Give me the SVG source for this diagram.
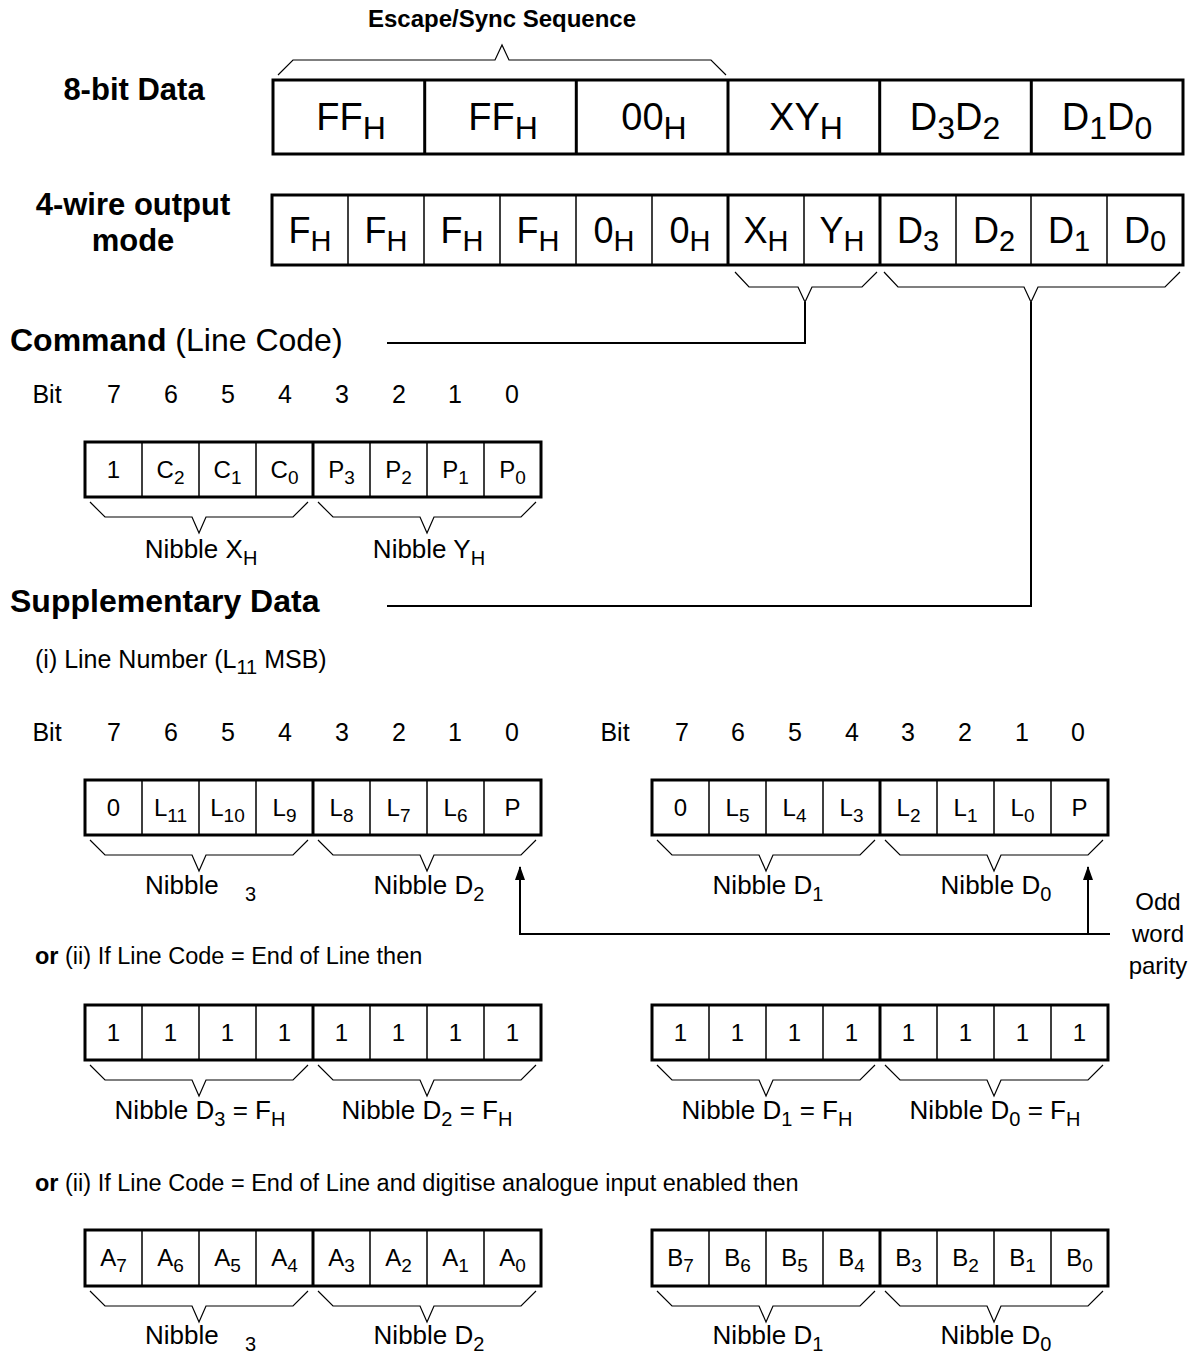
<svg xmlns="http://www.w3.org/2000/svg" xmlns:xlink="http://www.w3.org/1999/xlink" width="1192" height="1354" viewBox="0 0 1192 1354">
<style>
text{font-family:"Liberation Sans",Arial,sans-serif;fill:#000}
.b{font-weight:bold}
.title{font-size:24px;font-weight:bold;text-anchor:middle}
.lbl{font-size:31px;font-weight:bold;text-anchor:middle}
.big{font-size:38px;text-anchor:middle}
.mid{font-size:36px;text-anchor:middle}
.sm{font-size:24px;text-anchor:middle}
.bit{font-size:25px;text-anchor:middle}
.nib{font-size:26px;text-anchor:middle}
.head{font-size:32px}
.note{font-size:23.5px}
.box{fill:none;stroke:#000;stroke-width:3}
.dv{stroke:#000;stroke-width:1.5}
.dk{stroke:#000;stroke-width:3}
.br{fill:none;stroke:#000;stroke-width:1.2}
.cn{fill:none;stroke:#000;stroke-width:2}
</style>
<defs>
<path id="nb" class="br" d="M5,5 L20,20 L107,20 L114,36 L121,20 L208,20 L223,5"/>
<marker id="ah" markerWidth="14" markerHeight="10" refX="13" refY="5" orient="auto" markerUnits="userSpaceOnUse" viewBox="0 0 14 10"><path d="M0,0 L14,5 L0,10 Z" fill="#000"/></marker>
</defs>

<g id="title">
<text class="title" x="502" y="27">Escape/Sync Sequence</text>
<path class="br" d="M278,75 L293,60 L495,60 L502,45 L509,60 L711,60 L726,75"/>
</g>

<g id="row8bit">
<text class="lbl" x="134" y="100">8-bit Data</text>
<rect class="box" x="273" y="80" width="910" height="74"/>
<line class="dk" x1="424.7" y1="80" x2="424.7" y2="154"/>
<line class="dk" x1="576.3" y1="80" x2="576.3" y2="154"/>
<line class="dk" x1="728" y1="80" x2="728" y2="154"/>
<line class="dk" x1="879.7" y1="80" x2="879.7" y2="154"/>
<line class="dk" x1="1031.3" y1="80" x2="1031.3" y2="154"/>
<text class="big" x="351" y="130">FF<tspan dy="9" font-size="32">H</tspan></text>
<text class="big" x="503" y="130">FF<tspan dy="9" font-size="32">H</tspan></text>
<text class="big" x="654" y="130">00<tspan dy="9" font-size="32">H</tspan></text>
<text class="big" x="806" y="130">XY<tspan dy="9" font-size="32">H</tspan></text>
<text class="big" x="955" y="130">D<tspan dy="9" font-size="32">3</tspan><tspan dy="-9">D</tspan><tspan dy="9" font-size="32">2</tspan></text>
<text class="big" x="1107" y="130">D<tspan dy="9" font-size="32">1</tspan><tspan dy="-9">D</tspan><tspan dy="9" font-size="32">0</tspan></text>
</g>

<g id="row4wire">
<text class="lbl" x="133" y="215">4-wire output</text>
<text class="lbl" x="133" y="251">mode</text>
<rect class="box" x="272" y="195" width="911" height="70"/>
<line class="dv" x1="348" y1="195" x2="348" y2="265"/>
<line class="dv" x1="424" y1="195" x2="424" y2="265"/>
<line class="dv" x1="500" y1="195" x2="500" y2="265"/>
<line class="dv" x1="576" y1="195" x2="576" y2="265"/>
<line class="dv" x1="652" y1="195" x2="652" y2="265"/>
<line class="dk" x1="728" y1="195" x2="728" y2="265"/>
<line class="dv" x1="804" y1="195" x2="804" y2="265"/>
<line class="dk" x1="880" y1="195" x2="880" y2="265"/>
<line class="dv" x1="956" y1="195" x2="956" y2="265"/>
<line class="dv" x1="1031" y1="195" x2="1031" y2="265"/>
<line class="dv" x1="1107" y1="195" x2="1107" y2="265"/>
<text class="mid" x="310" y="243">F<tspan dy="8" font-size="29">H</tspan></text>
<text class="mid" x="386" y="243">F<tspan dy="8" font-size="29">H</tspan></text>
<text class="mid" x="462" y="243">F<tspan dy="8" font-size="29">H</tspan></text>
<text class="mid" x="538" y="243">F<tspan dy="8" font-size="29">H</tspan></text>
<text class="mid" x="614" y="243">0<tspan dy="8" font-size="29">H</tspan></text>
<text class="mid" x="690" y="243">0<tspan dy="8" font-size="29">H</tspan></text>
<text class="mid" x="766" y="243">X<tspan dy="8" font-size="29">H</tspan></text>
<text class="mid" x="842" y="243">Y<tspan dy="8" font-size="29">H</tspan></text>
<text class="mid" x="918" y="243">D<tspan dy="8" font-size="29">3</tspan></text>
<text class="mid" x="994" y="243">D<tspan dy="8" font-size="29">2</tspan></text>
<text class="mid" x="1069" y="243">D<tspan dy="8" font-size="29">1</tspan></text>
<text class="mid" x="1145" y="243">D<tspan dy="8" font-size="29">0</tspan></text>
<path class="br" d="M735,272 L749,287 L798,287 L805,302 L812,287 L862,287 L877,272"/>
<path class="br" d="M884,272 L898,287 L1024,287 L1031,302 L1038,287 L1165,287 L1180,272"/>
</g>

<g id="command">
<text class="head" x="10" y="351"><tspan class="b">Command</tspan> (Line Code)</text>
<text class="bit" x="47" y="403">Bit</text>
<text class="bit" x="114" y="403">7</text><text class="bit" x="171" y="403">6</text><text class="bit" x="228" y="403">5</text><text class="bit" x="285" y="403">4</text>
<text class="bit" x="342" y="403">3</text><text class="bit" x="399" y="403">2</text><text class="bit" x="455" y="403">1</text><text class="bit" x="512" y="403">0</text>
<rect class="box" x="85" y="442" width="456" height="55"/>
<path class="dv" d="M142,442V497M199,442V497M256,442V497M370,442V497M427,442V497M484,442V497"/>
<line class="dk" x1="313" y1="442" x2="313" y2="497"/>
<text class="sm" x="113.5" y="478">1</text>
<text class="sm" x="170.5" y="478">C<tspan dy="6" font-size="19">2</tspan></text>
<text class="sm" x="227.5" y="478">C<tspan dy="6" font-size="19">1</tspan></text>
<text class="sm" x="284.5" y="478">C<tspan dy="6" font-size="19">0</tspan></text>
<text class="sm" x="341.5" y="478">P<tspan dy="6" font-size="19">3</tspan></text>
<text class="sm" x="398.5" y="478">P<tspan dy="6" font-size="19">2</tspan></text>
<text class="sm" x="455.5" y="478">P<tspan dy="6" font-size="19">1</tspan></text>
<text class="sm" x="512.5" y="478">P<tspan dy="6" font-size="19">0</tspan></text>
<use xlink:href="#nb" href="#nb" x="85" y="497"/>
<use xlink:href="#nb" href="#nb" x="313" y="497"/>
<text class="nib" x="201" y="558">Nibble X<tspan dy="7" font-size="20">H</tspan></text>
<text class="nib" x="429" y="558">Nibble Y<tspan dy="7" font-size="20">H</tspan></text>
</g>

<g id="supplementary">
<text class="head b" x="10" y="612">Supplementary Data</text>
<text class="note" x="35" y="668" style="font-size:25px">(i) Line Number (L<tspan dy="6" font-size="20">11</tspan><tspan dy="-6"> MSB)</tspan></text>
</g>

<g id="linenum-left">
<text class="bit" x="47" y="741">Bit</text>
<text class="bit" x="114" y="741">7</text><text class="bit" x="171" y="741">6</text><text class="bit" x="228" y="741">5</text><text class="bit" x="285" y="741">4</text>
<text class="bit" x="342" y="741">3</text><text class="bit" x="399" y="741">2</text><text class="bit" x="455" y="741">1</text><text class="bit" x="512" y="741">0</text>
<rect class="box" x="85" y="780" width="456" height="55"/>
<path class="dv" d="M142,780V835M199,780V835M256,780V835M370,780V835M427,780V835M484,780V835"/>
<line class="dk" x1="313" y1="780" x2="313" y2="835"/>
<text class="sm" x="113.5" y="816">0</text>
<text class="sm" x="170.5" y="816">L<tspan dy="6" font-size="19">11</tspan></text>
<text class="sm" x="227.5" y="816">L<tspan dy="6" font-size="19">10</tspan></text>
<text class="sm" x="284.5" y="816">L<tspan dy="6" font-size="19">9</tspan></text>
<text class="sm" x="341.5" y="816">L<tspan dy="6" font-size="19">8</tspan></text>
<text class="sm" x="398.5" y="816">L<tspan dy="6" font-size="19">7</tspan></text>
<text class="sm" x="455.5" y="816">L<tspan dy="6" font-size="19">6</tspan></text>
<text class="sm" x="512.5" y="816">P</text>
<use xlink:href="#nb" href="#nb" x="85" y="835"/>
<use xlink:href="#nb" href="#nb" x="313" y="835"/>
<text class="nib" x="145" y="894" style="text-anchor:start">Nibble<tspan x="245" dy="7" font-size="20">3</tspan></text>
<text class="nib" x="429" y="894">Nibble D<tspan dy="7" font-size="20">2</tspan></text>
</g>

<g id="linenum-right">
<text class="bit" x="615" y="741">Bit</text>
<text class="bit" x="682" y="741">7</text><text class="bit" x="738" y="741">6</text><text class="bit" x="795" y="741">5</text><text class="bit" x="852" y="741">4</text>
<text class="bit" x="908" y="741">3</text><text class="bit" x="965" y="741">2</text><text class="bit" x="1022" y="741">1</text><text class="bit" x="1078" y="741">0</text>
<rect class="box" x="652" y="780" width="456" height="55"/>
<path class="dv" d="M709,780V835M766,780V835M823,780V835M937,780V835M994,780V835M1051,780V835"/>
<line class="dk" x1="880" y1="780" x2="880" y2="835"/>
<text class="sm" x="680.5" y="816">0</text>
<text class="sm" x="737.5" y="816">L<tspan dy="6" font-size="19">5</tspan></text>
<text class="sm" x="794.5" y="816">L<tspan dy="6" font-size="19">4</tspan></text>
<text class="sm" x="851.5" y="816">L<tspan dy="6" font-size="19">3</tspan></text>
<text class="sm" x="908.5" y="816">L<tspan dy="6" font-size="19">2</tspan></text>
<text class="sm" x="965.5" y="816">L<tspan dy="6" font-size="19">1</tspan></text>
<text class="sm" x="1022.5" y="816">L<tspan dy="6" font-size="19">0</tspan></text>
<text class="sm" x="1079.5" y="816">P</text>
<use xlink:href="#nb" href="#nb" x="652" y="835"/>
<use xlink:href="#nb" href="#nb" x="880" y="835"/>
<text class="nib" x="768" y="894">Nibble D<tspan dy="7" font-size="20">1</tspan></text>
<text class="nib" x="996" y="894">Nibble D<tspan dy="7" font-size="20">0</tspan></text>
</g>

<g id="parity">
<text class="sm" x="1158" y="910">Odd</text>
<text class="sm" x="1158" y="942">word</text>
<text class="sm" x="1158" y="974">parity</text>
</g>

<g id="eol">
<text class="note" x="35" y="964"><tspan class="b">or</tspan> (ii) If Line Code = End of Line then</text>
<rect class="box" x="85" y="1005" width="456" height="55"/>
<path class="dv" d="M142,1005V1060M199,1005V1060M256,1005V1060M370,1005V1060M427,1005V1060M484,1005V1060"/>
<line class="dk" x1="313" y1="1005" x2="313" y2="1060"/>
<text class="sm" x="113.5" y="1041">1</text><text class="sm" x="170.5" y="1041">1</text><text class="sm" x="227.5" y="1041">1</text><text class="sm" x="284.5" y="1041">1</text>
<text class="sm" x="341.5" y="1041">1</text><text class="sm" x="398.5" y="1041">1</text><text class="sm" x="455.5" y="1041">1</text><text class="sm" x="512.5" y="1041">1</text>
<use xlink:href="#nb" href="#nb" x="85" y="1060"/>
<use xlink:href="#nb" href="#nb" x="313" y="1060"/>
<text class="nib" x="200" y="1119">Nibble D<tspan dy="7" font-size="20">3</tspan><tspan dy="-7"> = F</tspan><tspan dy="7" font-size="20">H</tspan></text>
<text class="nib" x="427" y="1119">Nibble D<tspan dy="7" font-size="20">2</tspan><tspan dy="-7"> = F</tspan><tspan dy="7" font-size="20">H</tspan></text>
<rect class="box" x="652" y="1005" width="456" height="55"/>
<path class="dv" d="M709,1005V1060M766,1005V1060M823,1005V1060M937,1005V1060M994,1005V1060M1051,1005V1060"/>
<line class="dk" x1="880" y1="1005" x2="880" y2="1060"/>
<text class="sm" x="680.5" y="1041">1</text><text class="sm" x="737.5" y="1041">1</text><text class="sm" x="794.5" y="1041">1</text><text class="sm" x="851.5" y="1041">1</text>
<text class="sm" x="908.5" y="1041">1</text><text class="sm" x="965.5" y="1041">1</text><text class="sm" x="1022.5" y="1041">1</text><text class="sm" x="1079.5" y="1041">1</text>
<use xlink:href="#nb" href="#nb" x="652" y="1060"/>
<use xlink:href="#nb" href="#nb" x="880" y="1060"/>
<text class="nib" x="767" y="1119">Nibble D<tspan dy="7" font-size="20">1</tspan><tspan dy="-7"> = F</tspan><tspan dy="7" font-size="20">H</tspan></text>
<text class="nib" x="995" y="1119">Nibble D<tspan dy="7" font-size="20">0</tspan><tspan dy="-7"> = F</tspan><tspan dy="7" font-size="20">H</tspan></text>
</g>

<g id="analogue">
<text class="note" x="35" y="1191"><tspan class="b">or</tspan> (ii) If Line Code = End of Line and digitise analogue input enabled then</text>
<rect class="box" x="85" y="1230" width="456" height="56"/>
<path class="dv" d="M142,1230V1286M199,1230V1286M256,1230V1286M370,1230V1286M427,1230V1286M484,1230V1286"/>
<line class="dk" x1="313" y1="1230" x2="313" y2="1286"/>
<text class="sm" x="113.5" y="1266">A<tspan dy="6" font-size="19">7</tspan></text>
<text class="sm" x="170.5" y="1266">A<tspan dy="6" font-size="19">6</tspan></text>
<text class="sm" x="227.5" y="1266">A<tspan dy="6" font-size="19">5</tspan></text>
<text class="sm" x="284.5" y="1266">A<tspan dy="6" font-size="19">4</tspan></text>
<text class="sm" x="341.5" y="1266">A<tspan dy="6" font-size="19">3</tspan></text>
<text class="sm" x="398.5" y="1266">A<tspan dy="6" font-size="19">2</tspan></text>
<text class="sm" x="455.5" y="1266">A<tspan dy="6" font-size="19">1</tspan></text>
<text class="sm" x="512.5" y="1266">A<tspan dy="6" font-size="19">0</tspan></text>
<use xlink:href="#nb" href="#nb" x="85" y="1286"/>
<use xlink:href="#nb" href="#nb" x="313" y="1286"/>
<text class="nib" x="145" y="1344" style="text-anchor:start">Nibble<tspan x="245" dy="7" font-size="20">3</tspan></text>
<text class="nib" x="429" y="1344">Nibble D<tspan dy="7" font-size="20">2</tspan></text>
<rect class="box" x="652" y="1230" width="456" height="56"/>
<path class="dv" d="M709,1230V1286M766,1230V1286M823,1230V1286M937,1230V1286M994,1230V1286M1051,1230V1286"/>
<line class="dk" x1="880" y1="1230" x2="880" y2="1286"/>
<text class="sm" x="680.5" y="1266">B<tspan dy="6" font-size="19">7</tspan></text>
<text class="sm" x="737.5" y="1266">B<tspan dy="6" font-size="19">6</tspan></text>
<text class="sm" x="794.5" y="1266">B<tspan dy="6" font-size="19">5</tspan></text>
<text class="sm" x="851.5" y="1266">B<tspan dy="6" font-size="19">4</tspan></text>
<text class="sm" x="908.5" y="1266">B<tspan dy="6" font-size="19">3</tspan></text>
<text class="sm" x="965.5" y="1266">B<tspan dy="6" font-size="19">2</tspan></text>
<text class="sm" x="1022.5" y="1266">B<tspan dy="6" font-size="19">1</tspan></text>
<text class="sm" x="1079.5" y="1266">B<tspan dy="6" font-size="19">0</tspan></text>
<use xlink:href="#nb" href="#nb" x="652" y="1286"/>
<use xlink:href="#nb" href="#nb" x="880" y="1286"/>
<text class="nib" x="768" y="1344">Nibble D<tspan dy="7" font-size="20">1</tspan></text>
<text class="nib" x="996" y="1344">Nibble D<tspan dy="7" font-size="20">0</tspan></text>
</g>

<g id="connectors">
<path class="cn" d="M805,302 V343 H387"/>
<path class="cn" d="M1031,302 V606 H387"/>
<path class="cn" d="M1110,934 H520 V867" marker-end="url(#ah)"/>
<path class="cn" d="M1088,934 V867" marker-end="url(#ah)"/>
</g>
</svg>
